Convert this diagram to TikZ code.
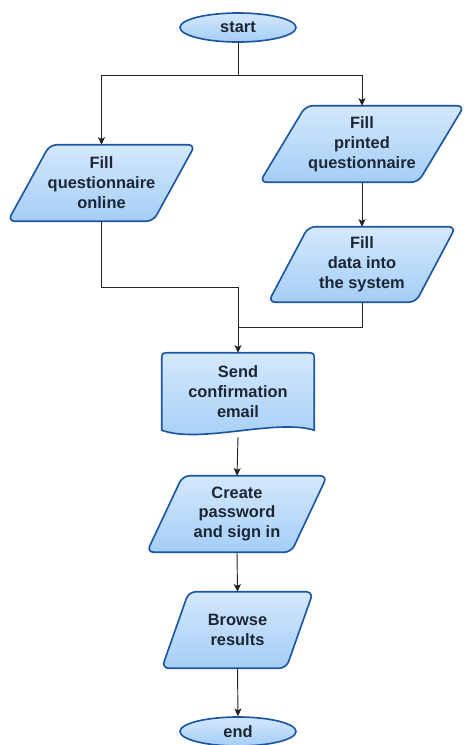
\documentclass[tikz,border=0pt]{standalone}
\usepackage{fontspec}
\setmainfont{Liberation Sans}
\usetikzlibrary{shapes.geometric,arrows.meta,calc,backgrounds}
\definecolor{bordc}{RGB}{28,86,160}
\definecolor{filltop}{RGB}{212,232,252}
\definecolor{fillbot}{RGB}{164,206,246}
\definecolor{txtc}{RGB}{28,38,52}
\definecolor{linec}{RGB}{35,35,35}
\tikzset{
  boxtext/.style={rectangle, inner sep=0pt, align=center, text=txtc,
    font=\fontsize{14}{17}\selectfont\bfseries},
  shapefill/.style={draw=bordc, line width=1.4pt, top color=filltop, bottom color=fillbot},
  termbox/.style={boxtext, ellipse, shapefill, minimum width=3.48cm, minimum height=0.87cm},
  conn/.style={draw=linec, line width=0.8pt},
  arr/.style={conn, -{Stealth[length=6.5pt,width=6pt,inset=1.5pt]}}
}
\newcommand{\paraback}[2]{%
  \path[shapefill, rounded corners=6pt]
    ($(#1.north west)+(#2,0)$) -- (#1.north east) --
    ($(#1.south east)-(#2,0)$) -- (#1.south west) -- cycle;}
\begin{document}
\begin{tikzpicture}[x=0.03cm,y=-0.03cm]
\useasboundingbox (0,0) rectangle (465,745);

\node[termbox] (start) at (238,27.5) {start};
\coordinate (split) at (238,75);
\node[boxtext, minimum width=5.61cm, minimum height=2.28cm] (fq) at (101.5,183) {Fill\\questionnaire\\online};
\node[boxtext, minimum width=6.12cm, minimum height=2.28cm] (fp) at (362,144) {Fill\\printed\\questionnaire};
\node[boxtext, minimum width=5.61cm, minimum height=2.25cm] (fd) at (362,264.5) {Fill\\data into\\the system};
\coordinate (join1) at (238,287);
\coordinate (join2) at (238,327);
\node[boxtext, minimum width=4.56cm, minimum height=2.31cm] (sce) at (238,391.5) {Send\\confirmation\\email};
\coordinate (sceout) at (238,437);
\node[boxtext, minimum width=5.4cm, minimum height=2.28cm] (cp) at (237,514) {Create\\password\\and sign in};
\node[boxtext, minimum width=4.53cm, minimum height=2.28cm] (br) at (237.5,630) {Browse\\results};
\node[termbox] (end) at (238,731.5) {end};

\begin{scope}[on background layer]
  \paraback{fq}{42}
  \paraback{fp}{46}
  \paraback{fd}{40}
  \paraback{cp}{36}
  \paraback{br}{27}
  \path[shapefill]
    (sce.south west) -- ($(sce.north west)+(0,8)$)
    .. controls (sce.north west) .. ($(sce.north west)+(8,0)$)
    -- ($(sce.north east)+(-8,0)$)
    .. controls (sce.north east) .. ($(sce.north east)+(0,8)$)
    -- (sce.south east)
    .. controls ($(sce.south east)+(-38,-12)$) and ($(sce.south west)+(38,14)$) .. (sce.south west)
    -- cycle;
\end{scope}

\draw[conn] (start.south) -- (split);
\draw[arr] (split) -| (fq.north);
\draw[arr] (split) -| (fp.north);
\draw[arr] (fp.south) -- (fd.north);
\draw[conn] (fq.south) |- (join1);
\draw[conn] (fd.south) |- (join2);
\draw[arr] (join1) -- (sce.north);
\draw[arr] (sceout) -- (cp.north);
\draw[arr] (cp.south) -- (br.north);
\draw[arr] (br.south) -- (end.north);
\end{tikzpicture}
\end{document}
